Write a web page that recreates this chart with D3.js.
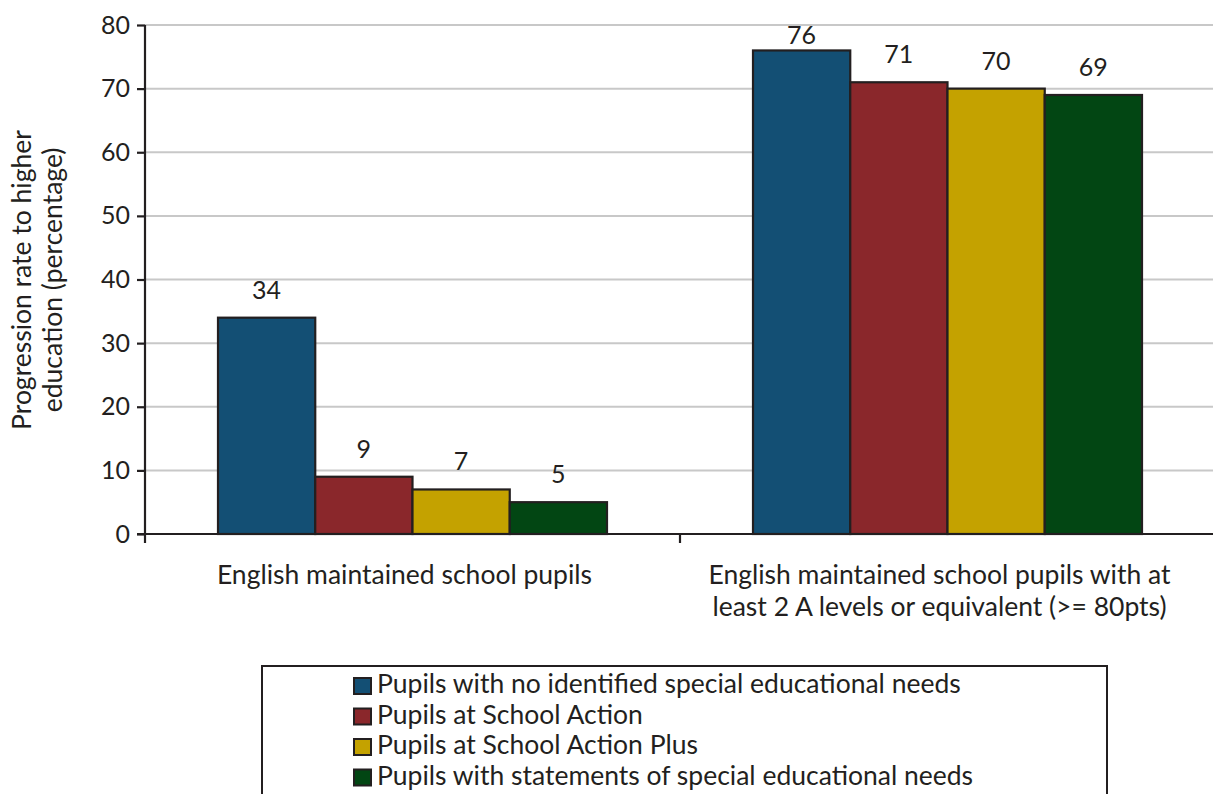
<!DOCTYPE html>
<html>
<head>
<meta charset="utf-8">
<script src="https://cdn.jsdelivr.net/npm/d3@7"></script>
<style>
  html, body { margin: 0; padding: 0; background: #fff; }
  svg { display: block; }
  text { font-family: Lato, "Open Sans", sans-serif; fill: #231f20; }
</style>
</head>
<body>
<svg id="chart" width="1213" height="794"></svg>
<script>
// Progression rates to higher education by SEN status
const categories = [
  ["English maintained school pupils"],
  ["English maintained school pupils with at", "least 2 A levels or equivalent (>= 80pts)"]
];
const seriesNames = [
  "Pupils with no identified special educational needs",
  "Pupils at School Action",
  "Pupils at School Action Plus",
  "Pupils with statements of special educational needs"
];
const seriesColors = ["#134f74", "#8a272b", "#c4a200", "#024613"];
const noSen = [34, 76];
const schoolAction = [9, 71];
const schoolActionPlus = [7, 70];
const statements = [5, 69];
const yTicks = [0, 10, 20, 30, 40, 50, 60, 70, 80];

const series = [noSen, schoolAction, schoolActionPlus, statements];

const svg = d3.select("#chart");
const plotLeft = 145, plotRight = 1215, plotTop = 25, plotBottom = 534;
const ink = "#231f20";

const x0 = d3.scaleBand().domain(d3.range(categories.length)).range([plotLeft, plotRight]);
const groupInset = 73;
const x1 = d3.scaleBand().domain(d3.range(series.length)).range([groupInset, x0.bandwidth() - groupInset]);
const y = d3.scaleLinear().domain([0, 80]).range([plotBottom, plotTop]);

// gridlines
svg.append("g").selectAll("line").data(yTicks.filter(d => d > 0)).join("line")
  .attr("x1", plotLeft).attr("x2", 1213)
  .attr("y1", d => y(d)).attr("y2", d => y(d))
  .attr("stroke", "#c8c8c8").attr("stroke-width", 2);

// bars
const groups = svg.append("g").selectAll("g").data(categories).join("g")
  .attr("transform", (d, i) => `translate(${x0(i)},0)`);
groups.selectAll("rect").data((d, i) => series.map((s, k) => ({ k, v: s[i] }))).join("rect")
  .attr("x", d => x1(d.k))
  .attr("width", x1.bandwidth())
  .attr("y", d => y(d.v))
  .attr("height", d => plotBottom - y(d.v))
  .attr("fill", d => seriesColors[d.k])
  .attr("stroke", ink).attr("stroke-width", 2.2);

// value labels
groups.selectAll("text.val").data((d, i) => series.map((s, k) => ({ k, v: s[i] }))).join("text")
  .attr("class", "val")
  .attr("x", d => x1(d.k) + x1.bandwidth() / 2)
  .attr("y", d => Math.max(y(d.v) - 19, 44))
  .attr("text-anchor", "middle")
  .attr("font-size", 25)
  .text(d => d.v);

// y axis
const yAxis = svg.append("g").attr("transform", `translate(${plotLeft},0)`)
  .call(d3.axisLeft(y).tickValues(yTicks).tickSize(8).tickPadding(7));
yAxis.select(".domain").attr("stroke", ink).attr("stroke-width", 2.2).attr("d", `M0,${plotTop}V${plotBottom}`);
yAxis.selectAll(".tick line").attr("stroke", ink).attr("stroke-width", 2.2);
yAxis.selectAll(".tick text").attr("font-size", 25).attr("font-family", "Lato, sans-serif").attr("fill", ink);

// x axis baseline and category ticks
svg.append("line").attr("x1", plotLeft - 8).attr("x2", 1213).attr("y1", plotBottom).attr("y2", plotBottom)
  .attr("stroke", ink).attr("stroke-width", 2.2);
svg.append("g").selectAll("line").data(d3.range(categories.length)).join("line")
  .attr("x1", d => x0(d)).attr("x2", d => x0(d))
  .attr("y1", plotBottom).attr("y2", plotBottom + 9)
  .attr("stroke", ink).attr("stroke-width", 2.2);

// category labels
svg.append("g").selectAll("text").data(categories).join("text")
  .attr("x", (d, i) => x0(i) + x0.bandwidth() / 2 - 8)
  .attr("y", 584)
  .attr("text-anchor", "middle")
  .attr("font-size", 26.5)
  .selectAll("tspan").data(d => d).join("tspan")
  .attr("x", function () { return this.parentNode.getAttribute("x"); })
  .attr("dy", (d, j) => j === 0 ? 0 : 32)
  .text(d => d);

// y axis title
svg.append("text")
  .attr("transform", "translate(0,280) rotate(-90)")
  .attr("text-anchor", "middle")
  .attr("font-size", 26.5)
  .selectAll("tspan").data(["Progression rate to higher", "education (percentage)"]).join("tspan")
  .attr("x", 0)
  .attr("y", (d, j) => j === 0 ? 31 : 62)
  .text(d => d);

// legend
const lg = svg.append("g");
lg.append("rect").attr("x", 262).attr("y", 666).attr("width", 845).attr("height", 140)
  .attr("fill", "none").attr("stroke", ink).attr("stroke-width", 2);
const items = lg.selectAll("g").data(seriesNames).join("g")
  .attr("transform", (d, i) => `translate(354,${693 + i * 30.5})`);
items.append("rect").attr("x", 0).attr("y", -15).attr("width", 17).attr("height", 16)
  .attr("fill", (d, i) => seriesColors[i]).attr("stroke", ink).attr("stroke-width", 2);
items.append("text").attr("x", 23).attr("y", 0).attr("font-size", 26.5).text(d => d);
</script>
</body>
</html>
